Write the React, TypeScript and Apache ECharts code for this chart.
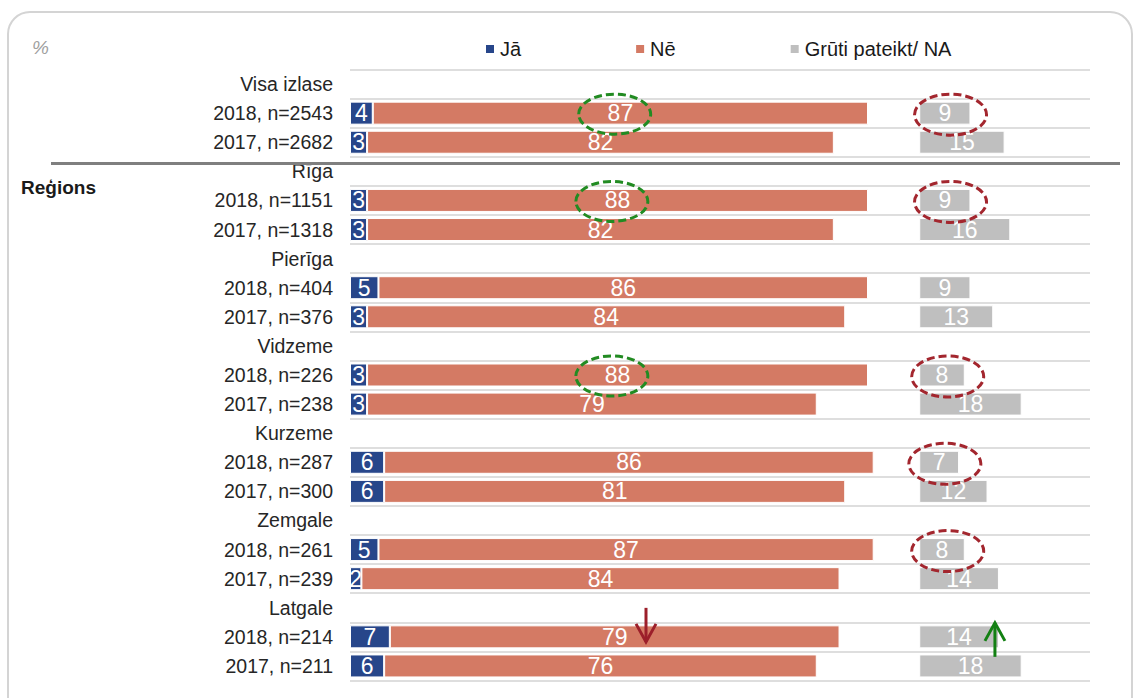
import React, { useEffect, useRef } from "react";
import * as echarts from "echarts";

const categories = [
  "Visa izlase", "2018, n=2543", "2017, n=2682",
  "Rīga", "2018, n=1151", "2017, n=1318",
  "Pierīga", "2018, n=404", "2017, n=376",
  "Vidzeme", "2018, n=226", "2017, n=238",
  "Kurzeme", "2018, n=287", "2017, n=300",
  "Zemgale", "2018, n=261", "2017, n=239",
  "Latgale", "2018, n=214", "2017, n=211",
];
const jaValues = [null, 4, 3, null, 3, 3, null, 5, 3, null, 3, 3, null, 6, 6, null, 5, 2, null, 7, 6];
const neValues = [null, 87, 82, null, 88, 82, null, 86, 84, null, 88, 79, null, 86, 81, null, 87, 84, null, 79, 76];
const naValues = [null, 9, 15, null, 9, 16, null, 9, 13, null, 8, 18, null, 7, 12, null, 8, 14, null, 14, 18];
const seriesNames = ["Jā", "Nē", "Grūti pateikt/ NA"];

// annotations (category indices)
const greenCircled = [1, 4, 10];
const redCircled = [1, 4, 10, 13, 16];
const downArrowRow = 19;
const upArrowRow = 19;

const GRAY_OFFSET = 100;
const FONT = "'Liberation Sans', Arial, sans-serif";
const C_JA = "#27468a";
const C_NE = "#d47a64";
const C_NA = "#bfbfbf";

export default function App() {
  const ref = useRef<HTMLDivElement>(null);
  useEffect(() => {
    const chart = echarts.init(ref.current!, null, { renderer: "svg" });
    const spacer = jaValues.map((j, i) =>
      j == null ? null : GRAY_OFFSET - (j as number) - (neValues[i] as number)
    );
    const inLabel = {
      show: true,
      position: "inside",
      color: "#ffffff",
      fontSize: 23,
      fontFamily: FONT,
    };
    chart.setOption({
      animation: false,
      textStyle: { fontFamily: FONT },
      legend: {
        data: seriesNames,
        left: 479,
        top: 34,
        icon: "rect",
        itemWidth: 10,
        itemHeight: 10,
        itemGap: 113,
        textStyle: { fontSize: 20, color: "#1a1a1a", fontFamily: FONT },
      },
      grid: { left: 350, top: 69.5, width: 740, height: 611, containLabel: false },
      xAxis: {
        type: "value",
        min: 0,
        max: 130,
        show: false,
      },
      yAxis: {
        type: "category",
        inverse: true,
        data: categories,
        axisLine: { show: false },
        axisTick: { show: false },
        axisLabel: { fontSize: 19.5, color: "#262626", margin: 17, fontFamily: FONT },
        splitLine: { show: true, lineStyle: { color: "#dedede", width: 2 } },
      },
      series: [
        {
          name: seriesNames[0],
          type: "bar",
          stack: "s",
          barWidth: 23,
          data: jaValues,
          itemStyle: { color: C_JA, borderColor: "#fff", borderWidth: 1 },
          label: inLabel,
        },
        {
          name: seriesNames[1],
          type: "bar",
          stack: "s",
          barWidth: 23,
          data: neValues,
          itemStyle: { color: C_NE, borderColor: "#fff", borderWidth: 1 },
          label: inLabel,
        },
        {
          name: "spacer",
          type: "bar",
          stack: "s",
          barWidth: 23,
          data: spacer,
          itemStyle: { color: "rgba(0,0,0,0)" },
          silent: true,
        },
        {
          name: seriesNames[2],
          type: "bar",
          stack: "s",
          barWidth: 23,
          data: naValues,
          itemStyle: { color: C_NA, borderColor: "#fff", borderWidth: 1 },
          label: inLabel,
        },
      ],
    });

    const px = (x: number, i: number) =>
      chart.convertToPixel({ gridIndex: 0 }, [x, i]) as number[];

    const graphics: any[] = [
      {
        type: "rect",
        shape: { x: 8, y: 12, width: 1124, height: 720, r: 22 },
        style: { fill: "none", stroke: "#d4d4d4", lineWidth: 2 },
        silent: true,
      },
      {
        type: "text",
        x: 32,
        y: 47,
        style: {
          text: "%",
          fontSize: 19,
          fontStyle: "italic",
          fill: "#a0a0a0",
          fontFamily: FONT,
          verticalAlign: "middle",
        },
      },
      {
        type: "text",
        x: 21,
        y: 187,
        style: {
          text: "Reģions",
          fontSize: 19,
          fontWeight: "bold",
          fill: "#1a1a1a",
          fontFamily: FONT,
          verticalAlign: "middle",
        },
      },
      {
        type: "line",
        shape: { x1: 51, y1: 163.5, x2: 1120, y2: 163.5 },
        style: { stroke: "#7f7f7f", lineWidth: 3 },
        z: 50,
      },
    ];

    greenCircled.forEach((i) => {
      const [cx, cy] = px((jaValues[i] as number) + (neValues[i] as number) / 2 - 1, i);
      graphics.push({
        type: "ellipse",
        shape: { cx, cy: cy + 1, rx: 36, ry: 20 },
        style: { fill: "none", stroke: "#228b22", lineWidth: 3, lineDash: [8, 4] },
        z: 100,
      });
    });
    redCircled.forEach((i) => {
      const [cx, cy] = px(GRAY_OFFSET + (naValues[i] as number) / 2 + 1, i);
      graphics.push({
        type: "ellipse",
        shape: { cx, cy: cy + 1.5, rx: 36, ry: 20.5 },
        style: { fill: "none", stroke: "#a3262e", lineWidth: 3, lineDash: [8, 4] },
        z: 100,
      });
    });
    {
      const [x, cy] = px(52, downArrowRow);
      const y1 = cy - 29;
      const y2 = cy + 5;
      const st = { stroke: "#9c1f2a", lineWidth: 3, fill: "none" };
      graphics.push(
        { type: "polyline", shape: { points: [[x, y1], [x, y2]] }, style: st, z: 100 },
        { type: "polyline", shape: { points: [[x - 10, y2 - 18], [x, y2], [x + 10, y2 - 18]] }, style: st, z: 100 }
      );
    }
    {
      const [x, cy] = px(113.3, upArrowRow);
      const y1 = cy - 14;
      const y2 = cy + 20;
      const st = { stroke: "#138013", lineWidth: 3, fill: "none" };
      graphics.push(
        { type: "polyline", shape: { points: [[x, y1], [x, y2]] }, style: st, z: 100 },
        { type: "polyline", shape: { points: [[x - 10, y1 + 18], [x, y1], [x + 10, y1 + 18]] }, style: st, z: 100 }
      );
    }
    chart.setOption({ graphic: graphics });
    return () => chart.dispose();
  }, []);
  return (
    <div
      ref={ref}
      style={{ position: "absolute", left: 0, top: 0, width: 1135, height: 698, background: "#fff" }}
    />
  );
}
